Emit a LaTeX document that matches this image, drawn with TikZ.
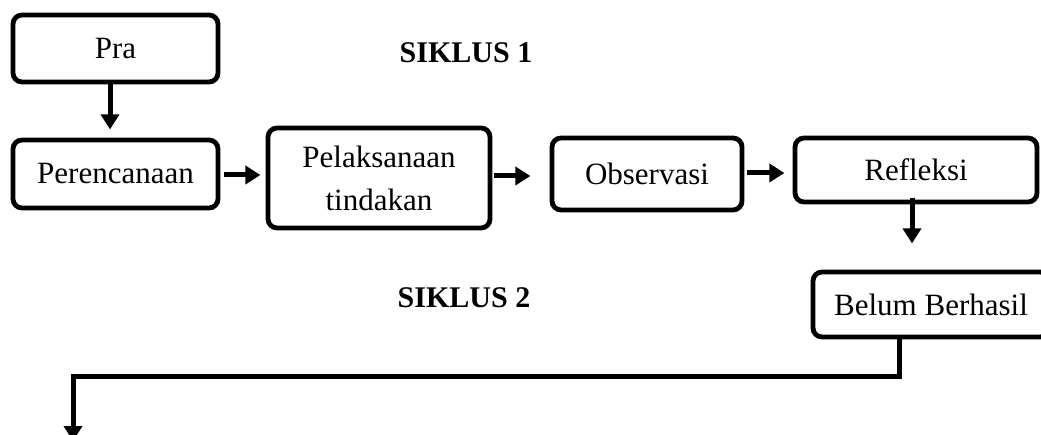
\documentclass[tikz,border=0pt]{standalone}
\usepackage{fontspec}
\setmainfont{Liberation Serif}
\usetikzlibrary{arrows.meta}
\begin{document}
\begin{tikzpicture}[x=1pt,y=-1pt,
  box/.style={draw=black,line width=4.8pt,rounded corners=9pt,inner sep=0pt,
    font=\fontsize{31}{43}\selectfont,align=center},
  arr/.style={line width=5pt,-{Triangle[length=15pt,width=18pt]}},
  ttl/.style={font=\fontsize{30}{34}\selectfont\bfseries}]
\useasboundingbox (0,0) rectangle (1041,435);
\node[box,minimum width=205pt,minimum height=67pt] (pra) at (115.5,48.5) {Pra};
\node[box,minimum width=205pt,minimum height=68pt] (per) at (115.5,174) {Perencanaan};
\node[box,minimum width=222pt,minimum height=100pt] (pel) at (379,178) {Pelaksanaan\\tindakan};
\node[box,minimum width=190pt,minimum height=72pt] (obs) at (647,174) {Observasi};
\node[box,minimum width=242pt,minimum height=64pt] (ref) at (916,170) {Refleksi};
\node[box,minimum width=236pt,minimum height=65pt] (bel) at (931,304.5) {Belum Berhasil};
\node[ttl] (s1) at (466,53) {SIKLUS 1};
\node[ttl] (s2) at (464,298) {SIKLUS 2};
\coordinate (end) at (73,441);
\draw[arr] ([xshift=-5.5pt]pra.south) -- ++(0,45);
\draw[arr] ([xshift=4pt,yshift=-1pt]per.east) -- ++(36,0);
\draw[arr] ([xshift=2pt,yshift=2pt]pel.east) -- ++(36,0);
\draw[arr] ([xshift=3pt,yshift=1pt]obs.east) -- ++(37,0);
\draw[arr] ([xshift=-4pt,yshift=6pt]ref.south) -- ++(0,45);
\draw[arr] ([xshift=-32pt]bel.south) |- ++(0,37) -| (end);
\end{tikzpicture}
\end{document}
